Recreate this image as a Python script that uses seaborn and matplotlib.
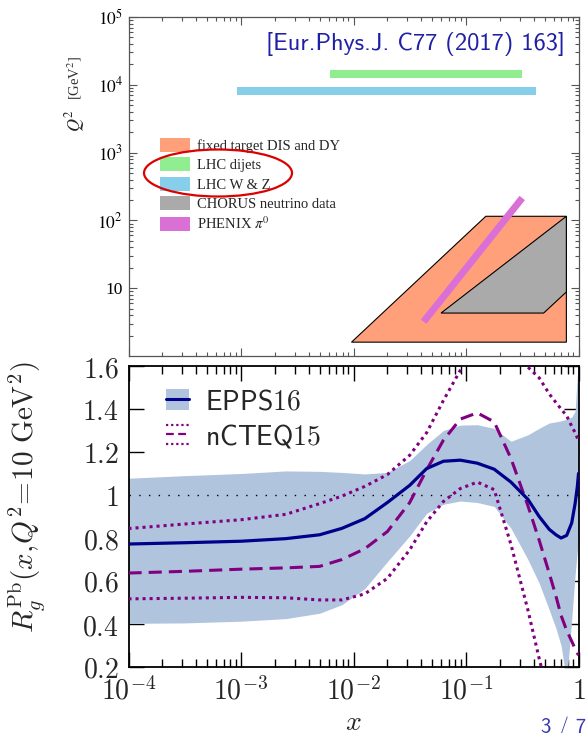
import numpy as np
import pandas as pd
import matplotlib
matplotlib.use("Agg")
import matplotlib.pyplot as plt
import seaborn as sns
from matplotlib.patches import Polygon, Ellipse, Patch
from matplotlib.lines import Line2D
from matplotlib.legend_handler import HandlerBase
from matplotlib.ticker import LogLocator, NullFormatter, FixedLocator

# ---------------- data: kinematic coverage (top panel) ----------------
dis_x = [0.0096, 0.15, 0.78, 0.78]
dis_q2 = [1.6, 115, 115, 1.6]
chorus_x = [0.060, 0.49, 0.78, 0.78]
chorus_q2 = [4.3, 4.3, 8.8, 115]
phenix_x = [0.042, 0.316]
phenix_q2 = [3.2, 214]
dijet_x = [0.0062, 0.316]
dijet_q2 = [1.26e4, 1.65e4]
wz_x = [9.2e-4, 0.42]
wz_q2 = [7.08e3, 9.3e3]
coverage_labels = ["fixed target DIS and DY", "LHC dijets", "LHC W & Z",
                   "CHORUS neutrino data", r"PHENIX $\pi^0$"]
q2_ticks = [10, 1e2, 1e3, 1e4, 1e5]
q2_ticklabels = ["10", r"$10^2$", r"$10^3$", r"$10^4$", r"$10^5$"]

# ---------------- data: gluon nuclear modification (bottom panel) ----------------
x_grid = [1e-4, 3.16e-4, 1e-3, 2.5e-3, 5e-3, 7.9e-3, 0.0126, 0.02, 0.0316, 0.0447,
          0.063, 0.089, 0.126, 0.178, 0.251, 0.355, 0.447, 0.55, 0.63, 0.70,
          0.785, 0.87, 0.933, 0.977, 1.0]
epps_central = [0.772, 0.778, 0.785, 0.797, 0.815, 0.845, 0.89, 0.965, 1.045, 1.123,
                1.157, 1.162, 1.148, 1.12, 1.06, 0.98, 0.90, 0.84, 0.815, 0.80,
                0.812, 0.87, 0.96, 1.04, 1.10]
epps_upper = [1.078, 1.09, 1.10, 1.112, 1.11, 1.105, 1.098, 1.105, 1.16, 1.235,
              1.30, 1.325, 1.327, 1.31, 1.25, 1.28, 1.31, 1.335, 1.34, 1.345,
              1.352, 1.362, 1.39, 1.56, 1.65]
epps_lower = [0.403, 0.405, 0.413, 0.425, 0.45, 0.49, 0.565, 0.69, 0.81, 0.915,
              0.957, 0.972, 0.965, 0.947, 0.845, 0.70, 0.59, 0.465, 0.38, 0.30,
              0.13, 0.42, 0.63, 0.74, 0.78]
ncteq_central = [0.637, 0.645, 0.655, 0.661, 0.668, 0.70, 0.75, 0.83, 0.965, 1.117,
                 1.255, 1.353, 1.382, 1.34, 1.17, 0.95, 0.79, 0.635, 0.53, 0.44,
                 0.37, 0.32, 0.285, 0.265, 0.255]
ncteq_upper = [0.844, 0.865, 0.885, 0.91, 0.96, 0.995, 1.04, 1.095, 1.185, 1.29,
               1.44, 1.58, 1.70, 1.76, 1.72, 1.595, 1.545, 1.47, 1.43, 1.40,
               1.368, 1.32, 1.29, 1.265, 1.255]
ncteq_lower = [0.517, 0.52, 0.524, 0.522, 0.512, 0.512, 0.54, 0.612, 0.745, 0.875,
               0.97, 1.03, 1.06, 1.025, 0.77, 0.465, 0.24, 0.05, -0.08, -0.18,
               -0.28, -0.36, -0.42, -0.45, -0.46]
r_ticks = [0.2, 0.4, 0.6, 0.8, 1.0, 1.2, 1.4, 1.6]
r_ticklabels = [r"$0.2$", r"$0.4$", r"$0.6$", r"$0.8$", r"$1$", r"$1.2$", r"$1.4$", r"$1.6$"]
x_ticks = [1e-4, 1e-3, 1e-2, 1e-1, 1.0]
x_ticklabels = [r"$10^{-4}$", r"$10^{-3}$", r"$10^{-2}$", r"$10^{-1}$", r"$1$"]

# ---------------- style ----------------
sns.set_theme(style="ticks")
plt.rcParams["font.family"] = ["DejaVu Sans"]
plt.rcParams["mathtext.fontset"] = "cm"

C_DIS = "#ffa07a"
C_DIJ = "#90ee90"
C_WZ = "#87ceeb"
C_CHO = "#aaaaaa"
C_PHE = "#da70d6"
C_BAND = "#b0c4de"
C_NAVY = "#00008b"
C_PURP = "#800080"

W, H = 587, 733
fig = plt.figure(figsize=(W / 100, H / 100), dpi=100)
L, R = 128.5, 578.5
ax1 = fig.add_axes([L / W, 1 - 356 / H, (R - L) / W, (356 - 17) / H])
ax2 = fig.add_axes([L / W, 1 - 667 / H, (R - L) / W, (667 - 366) / H])

# ---------------- top panel ----------------
ax1.set_xscale("log")
ax1.set_yscale("log")
ax1.set_xlim(1e-4, 1)
ax1.set_ylim(1, 1e5)
ax1.set_facecolor("white")

ax1.add_patch(Polygon(list(zip(dis_x, dis_q2)), closed=True, facecolor=C_DIS,
                      edgecolor="black", lw=0.8, zorder=2))
ax1.add_patch(Polygon(list(zip(chorus_x, chorus_q2)), closed=True, facecolor=C_CHO,
                      edgecolor="black", lw=0.8, zorder=3))
ax1.plot(phenix_x, phenix_q2, color=C_PHE, lw=5.0, solid_capstyle="butt", zorder=4)
ax1.fill_between(dijet_x, [dijet_q2[0]] * 2, [dijet_q2[1]] * 2, color=C_DIJ, lw=0, zorder=2)
ax1.fill_between(wz_x, [wz_q2[0]] * 2, [wz_q2[1]] * 2, color=C_WZ, lw=0, zorder=2)

spc = "#555555"
for s in ax1.spines.values():
    s.set_color(spc)
    s.set_linewidth(0.9)
ax1.xaxis.set_major_locator(LogLocator(base=10, numticks=10))
ax1.xaxis.set_minor_locator(LogLocator(base=10, subs=np.arange(2, 10), numticks=20))
ax1.xaxis.set_minor_formatter(NullFormatter())
ax1.yaxis.set_minor_locator(LogLocator(base=10, subs=np.arange(2, 10), numticks=20))
ax1.yaxis.set_minor_formatter(NullFormatter())
ax1.set_yticks(q2_ticks)
ax1.set_yticklabels(q2_ticklabels, fontfamily="Liberation Serif", math_fontfamily="stix",
                    fontsize=12.5, color="black")
ax1.tick_params(which="both", direction="in", top=True, right=True, color=spc,
                labelbottom=False, width=0.8)
ax1.tick_params(which="major", length=6, pad=4)
ax1.tick_params(which="minor", length=3)

handles = [Patch(facecolor=c, edgecolor="none") for c in [C_DIS, C_DIJ, C_WZ, C_CHO, C_PHE]]
leg1 = ax1.legend(handles, coverage_labels, loc="upper left", bbox_to_anchor=(0.071, 0.643),
                  frameon=False, borderpad=0, borderaxespad=0, handlelength=2.0,
                  handleheight=1.1, handletextpad=0.5, labelspacing=0.3,
                  prop={"family": "Liberation Serif", "size": 10.5, "math_fontfamily": "stix"})

fig.text(75 / W, 1 - 121 / H, r"$Q^2$", rotation=90, ha="center", va="center",
         fontsize=13, math_fontfamily="stix")
fig.text(75 / W, 1 - 78 / H, r"[GeV$^2$]", rotation=90, ha="center", va="center",
         fontsize=10.5, fontfamily="Liberation Serif", math_fontfamily="stix", color="#333333")

fig.text(565 / W, 1 - 44 / H, "[Eur.Phys.J. C77 (2017) 163]",
         ha="right", va="center", fontsize=17.6, color="#2020a6", fontfamily="cmss10")

fig.patches.append(Ellipse((218 / W, 1 - 173 / H), 148 / W, 47 / H, transform=fig.transFigure,
                           facecolor="none", edgecolor="#dd0000", lw=1.6, zorder=10))

# ---------------- bottom panel ----------------
ax2.set_xscale("log")
ax2.set_facecolor("white")
ax2.fill_between(x_grid, epps_lower, epps_upper, color=C_BAND, lw=0, zorder=1)
ax2.axhline(1.0, color="black", lw=1.0, linestyle=(0, (1, 6)), zorder=2)

dot = (0, (1, 1.3))
dash = (0, (4.3, 2.3))
common = dict(ax=ax2, errorbar=None, legend=False, sort=False, estimator=None)
sns.lineplot(x=x_grid, y=ncteq_upper, color=C_PURP, lw=2.2, linestyle=dot, zorder=3, **common)
sns.lineplot(x=x_grid, y=ncteq_lower, color=C_PURP, lw=2.2, linestyle=dot, zorder=3, **common)
sns.lineplot(x=x_grid, y=ncteq_central, color=C_PURP, lw=2.2, linestyle=dash, zorder=3, **common)
sns.lineplot(x=x_grid, y=epps_central, color=C_NAVY, lw=2.3, zorder=4, **common)

ax2.set_xlim(1e-4, 1)
ax2.set_ylim(0.2, 1.6)
for s in ax2.spines.values():
    s.set_color("black")
    s.set_linewidth(1.3)
ax2.set_xticks(x_ticks)
ax2.set_xticklabels(x_ticklabels, fontsize=20, math_fontfamily="cm")
ax2.xaxis.set_minor_locator(LogLocator(base=10, subs=np.arange(2, 10), numticks=20))
ax2.xaxis.set_minor_formatter(NullFormatter())
ax2.set_yticks(r_ticks)
ax2.set_yticklabels(r_ticklabels, fontsize=20, math_fontfamily="cm")
ax2.yaxis.set_minor_locator(FixedLocator([]))
ax2.tick_params(which="both", direction="in", top=True, right=True, color="black", width=1.0)
ax2.tick_params(which="major", length=10.5)
ax2.tick_params(axis="y", which="major", pad=7)
ax2.tick_params(axis="x", which="major", pad=7)
ax2.tick_params(which="minor", length=5.5)
ax2.set_xlabel(r"$x$", fontsize=20, math_fontfamily="cm", labelpad=2)
ax2.set_ylabel(r"$R_g^{\mathrm{Pb}}(x,\!Q^2\!=\!10\ \mathrm{GeV}^2)$", fontsize=21,
               math_fontfamily="cm")
ax2.yaxis.set_label_coords(-0.178, 0.565)


class ThreeLineHandler(HandlerBase):
    def create_artists(self, legend, orig_handle, xdescent, ydescent, width, height,
                       fontsize, trans):
        arts = []
        for frac, ls in [(0.95, (0, (1, 1.3))), (0.5, (0, (3.5, 2.0))), (0.05, (0, (1, 1.3)))]:
            y = -ydescent + height * frac
            ln = Line2D([-xdescent, -xdescent + width], [y, y], color=C_PURP, lw=1.6,
                        linestyle=ls, transform=trans)
            arts.append(ln)
        return arts


band_handle = Patch(facecolor=C_BAND, edgecolor="none")
line_handle = Line2D([], [], color=C_NAVY, lw=2.2)
ncteq_handle = Line2D([], [], color=C_PURP)
leg2 = ax2.legend([(band_handle, line_handle), ncteq_handle],
                  [r"$\mathsf{EPPS16}$", r"$\mathsf{nCTEQ15}$"],
                  handler_map={ncteq_handle: ThreeLineHandler()},
                  loc="upper left", bbox_to_anchor=(0.084, 0.93), frameon=False,
                  borderpad=0, borderaxespad=0, handlelength=0.8, handleheight=0.8,
                  handletextpad=0.6, labelspacing=0.25,
                  prop={"size": 20, "math_fontfamily": "cm"})

fig.text(541 / W, 1 - 716 / H, "3 / 7", ha="left", va="top",
         fontsize=15, color="#3a3ab0", fontfamily="cmss10")

fig.savefig("out.png", dpi=100, facecolor="white")
